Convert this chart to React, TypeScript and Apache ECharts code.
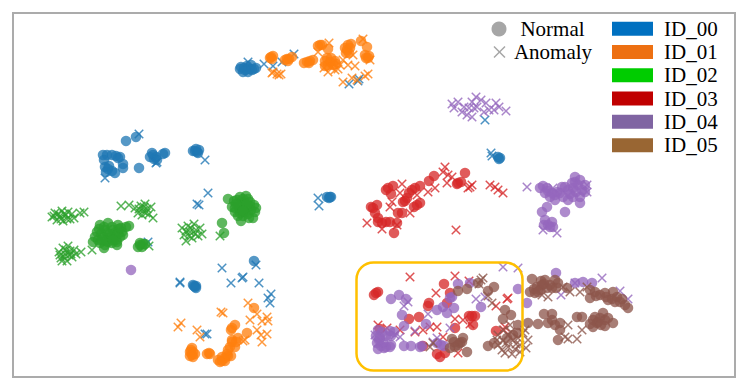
import React, { useEffect, useRef } from "react";
import * as echarts from "echarts";

type P = [number, number];

const ids = ["ID_00", "ID_01", "ID_02", "ID_03", "ID_04", "ID_05"];
const pointColors = ["#1f77b4", "#ff7f0e", "#2ca02c", "#d62728", "#9467bd", "#8c564b"];
const swatchColors = ["#0070C0", "#ED7012", "#00CC00", "#C00000", "#8064A2", "#996633"];

const normal00: P[] = [[240,69],[244,68],[247,69],[250,69],[254,69],[247,66],[251,65],[243,72],[248,72],[252,70],[256,68],[245,70],[241,67],[103,155],[107,155],[112,155],[116,156],[120,157],[105,167],[108,169],[112,171],[115,173],[123,164],[123,168],[104,160],[106,172],[109,166],[118,158],[139,168],[126,141],[136,137],[153,155],[156,157],[150,157],[154,159],[152,153],[157,160],[165,153],[163,154],[195,151],[197,152],[193,151],[198,153],[196,149],[199,150],[327,197],[330,197],[329,198],[331,197],[498,157],[500,158],[499,159],[194,286],[196,286],[195,287],[196,288],[193,285],[254,261]];
const anomaly00: P[] = [[139,134],[205,160],[105,178],[157,162],[156,163],[248,62],[264,64],[273,66],[282,62],[294,54],[349,84],[359,79],[358,81],[208,193],[199,205],[197,204],[319,206],[318,198],[148,242],[180,282],[180,283],[222,268],[231,283],[243,277],[242,278],[256,265],[259,283],[271,294],[268,298],[270,303],[207,334],[205,334],[485,120],[491,153],[492,156]];

const normal01: P[] = [[271,57],[270,58],[272,59],[273,56],[287,59],[289,59],[285,60],[292,57],[288,61],[307,62],[310,61],[313,60],[304,63],[309,63],[320,45],[322,45],[318,46],[328,49],[330,62],[325,61],[335,61],[328,65],[333,65],[325,66],[331,58],[336,64],[327,58],[348,45],[347,50],[350,48],[349,53],[345,48],[351,44],[346,53],[361,41],[367,47],[365,55],[368,58],[366,58],[369,56],[192,348],[190,352],[193,352],[192,355],[190,356],[193,357],[191,350],[195,354],[209,353],[210,354],[207,354],[218,360],[222,361],[225,358],[228,356],[222,357],[231,356],[225,361],[220,362],[227,354],[230,347],[235,347],[232,342],[238,338],[232,340],[236,342],[228,350],[232,328],[235,325],[231,330],[247,333],[254,308]];
const anomaly01: P[] = [[329,43],[318,52],[277,74],[273,72],[279,75],[272,73],[281,74],[328,72],[333,63],[340,65],[343,60],[348,65],[355,66],[353,55],[343,82],[352,78],[357,80],[368,74],[365,76],[363,39],[370,60],[181,323],[178,327],[197,330],[200,337],[221,312],[223,313],[248,303],[257,314],[250,320],[262,321],[267,317],[268,321],[257,330],[267,334],[261,335],[262,342],[245,340],[243,341],[335,70],[324,68],[338,69],[331,67]];

const normal02: P[] = [[100,225],[108,223],[118,225],[126,227],[97,232],[105,230],[113,230],[122,232],[95,237],[103,237],[112,237],[120,237],[93,242],[100,243],[108,242],[117,242],[104,248],[112,243],[117,245],[98,240],[107,233],[115,233],[123,235],[104,227],[112,227],[119,229],[101,234],[109,238],[116,240],[105,245],[129,226],[99,229],[110,234],[118,234],[106,241],[113,240],[121,228],[102,240],[140,245],[143,244],[138,247],[142,247],[145,244],[140,243],[234,201],[240,197],[246,196],[232,207],[238,204],[244,202],[250,202],[254,205],[235,212],[240,210],[246,208],[251,210],[256,208],[238,216],[243,216],[248,214],[253,218],[241,221],[243,199],[237,200],[248,199],[235,208],[240,213],[245,212],[250,206],[255,212],[242,206],[247,204],[236,204],[243,211],[249,218],[222,223],[224,233],[228,199]];
const anomaly02: P[] = [[52,217],[55,213],[57,220],[60,216],[62,211],[63,221],[66,215],[68,212],[70,219],[72,214],[74,218],[58,214],[61,219],[64,214],[67,219],[54,216],[80,213],[84,212],[121,206],[129,205],[135,208],[138,213],[141,206],[143,211],[145,204],[147,209],[149,214],[151,207],[139,209],[144,207],[146,213],[142,215],[153,218],[59,252],[61,258],[63,248],[65,254],[67,261],[68,246],[70,251],[72,257],[74,250],[62,261],[76,254],[64,257],[69,255],[66,250],[60,255],[71,254],[81,252],[92,250],[149,246],[182,228],[184,235],[186,241],[188,226],[190,232],[192,238],[194,224],[196,230],[198,236],[200,228],[202,234],[186,231],[191,228],[195,234],[189,236],[220,236]];

const normal03: P[] = [[386,190],[388,188],[393,186],[391,194],[412,190],[415,188],[420,186],[409,193],[405,201],[403,202],[407,198],[420,203],[414,207],[417,205],[398,213],[402,213],[371,207],[377,205],[373,208],[375,213],[378,218],[378,222],[382,223],[386,222],[390,222],[397,223],[394,233],[429,181],[434,176],[465,173],[458,183],[457,184],[461,182],[376,293],[378,292],[374,295],[444,284],[450,293],[429,303],[428,306],[447,303],[409,319],[419,317],[380,329],[455,328],[469,316],[475,316],[472,316],[473,325],[423,346],[437,354],[440,357],[445,353],[496,331]];
const anomaly03: P[] = [[445,167],[443,172],[448,175],[452,177],[447,183],[435,188],[428,192],[470,187],[472,185],[468,188],[490,185],[495,187],[498,190],[503,193],[456,230],[367,223],[402,184],[400,193],[392,202],[390,207],[410,213],[417,195],[382,229],[397,225],[410,277],[455,276],[436,293],[469,281],[508,298],[507,299],[496,306],[378,325],[387,328],[400,330],[415,332],[423,330],[430,327],[437,327],[455,319],[463,320],[470,324],[443,337],[458,353],[505,327],[504,330]];

const normal04: P[] = [[391,299],[399,295],[406,299],[402,315],[404,326],[426,324],[437,310],[443,307],[447,313],[454,308],[452,297],[458,284],[450,298],[481,307],[470,283],[518,289],[527,303],[378,330],[382,332],[390,331],[394,332],[376,336],[380,338],[386,336],[391,336],[377,343],[381,346],[386,347],[390,347],[378,349],[384,348],[391,345],[383,342],[379,340],[404,346],[411,346],[420,347],[422,346],[437,343],[441,345],[444,346],[556,273],[575,283],[583,282],[592,283],[540,188],[543,186],[547,188],[545,193],[550,197],[555,200],[560,193],[565,187],[568,190],[568,200],[573,188],[575,182],[575,177],[578,185],[582,190],[585,185],[580,197],[580,203],[562,187],[557,192],[552,193],[570,194],[576,192],[548,191],[555,195],[563,197],[573,197],[585,192],[580,180],[572,183],[565,212],[547,207],[542,212],[545,220],[544,225],[552,222],[550,227],[553,227],[548,225],[131,270]];
const anomaly04: P[] = [[452,104],[458,102],[454,108],[462,112],[467,115],[472,117],[476,97],[472,102],[477,107],[481,100],[486,103],[484,112],[489,110],[496,103],[499,107],[506,111],[494,110],[474,108],[469,108],[464,107],[527,187],[557,233],[553,188],[587,185],[587,192],[543,230],[408,302],[404,306],[428,314],[415,331],[400,337],[450,328],[476,299],[485,297],[437,338],[433,342],[503,267],[518,268],[378,343],[375,335],[395,335],[602,278],[620,291],[628,299],[561,295],[575,283]];

const normal05: P[] = [[458,291],[467,289],[478,283],[488,291],[494,287],[505,310],[511,315],[503,319],[518,325],[488,346],[494,343],[513,335],[507,338],[518,333],[452,339],[463,338],[460,343],[455,347],[450,348],[467,352],[458,345],[462,342],[454,342],[532,279],[530,292],[535,293],[537,287],[542,285],[545,280],[547,288],[540,290],[534,289],[541,281],[550,285],[555,280],[558,283],[556,288],[544,284],[538,292],[552,288],[567,288],[590,290],[595,292],[605,293],[608,300],[617,297],[620,302],[628,308],[625,305],[613,292],[590,298],[600,295],[612,299],[622,299],[596,296],[606,297],[615,302],[528,323],[538,324],[544,314],[552,314],[548,323],[555,325],[560,323],[552,320],[560,330],[558,340],[577,317],[582,317],[593,320],[597,323],[603,313],[593,327],[605,326],[613,323],[600,318],[605,320],[595,317],[598,322],[601,325],[608,318],[590,324]];
const anomaly05: P[] = [[483,278],[481,280],[479,284],[430,347],[433,343],[523,333],[528,340],[548,297],[542,295],[563,287],[570,292],[580,292],[587,287],[568,325],[565,337],[568,339],[582,330],[577,339],[498,335],[503,330],[508,335],[513,340],[503,341],[498,345],[508,347],[515,349],[520,345],[505,353],[512,354],[520,352],[526,348],[518,338],[525,330],[510,325],[497,340],[502,350],[506,343],[516,344],[511,332],[488,296],[492,303]];

const normals = [normal00, normal01, normal02, normal03, normal04, normal05];
const anomalies = [anomaly00, anomaly01, anomaly02, anomaly03, anomaly04, anomaly05];
const CROSS = "path://M0 0L10 10M0 10L10 0";
const FONT = '"Liberation Serif", serif';

export default function App() {
  const ref = useRef<HTMLDivElement>(null);
  useEffect(() => {
    const chart = echarts.init(ref.current!, undefined, { renderer: "svg" });
    const series: any[] = [];
    ids.forEach((name, i) => {
      series.push({
        name, type: "scatter", data: normals[i], symbol: "circle", symbolSize: 10.5,
        silent: true, itemStyle: { color: pointColors[i], opacity: 0.76 },
      });
      series.push({
        name, type: "scatter", data: anomalies[i], symbol: CROSS, symbolSize: 8.5,
        silent: true,
        itemStyle: { color: "transparent", borderColor: pointColors[i], borderWidth: 1.5, opacity: 0.8 },
      });
    });
    chart.setOption({
      animation: false,
      backgroundColor: "#ffffff",
      grid: { show: true, left: 13, right: 12, top: 13, bottom: 13, borderColor: "#ababab", borderWidth: 2, backgroundColor: "#ffffff" },
      xAxis: { type: "value", min: 13, max: 735, show: false },
      yAxis: { type: "value", min: 13, max: 377, inverse: true, show: false },
      legend: {
        orient: "vertical", left: 612, top: 17, padding: 0, itemWidth: 41, itemHeight: 14, itemGap: 0,
        selectedMode: false,
        textStyle: { fontFamily: FONT, fontSize: 21, color: "#000", lineHeight: 23.3, padding: [0, 0, 0, 6] },
        data: ids.map((name, i) => ({ name, icon: "rect", itemStyle: { color: swatchColors[i], opacity: 1, borderWidth: 0 } })),
      },
      series,
      graphic: [
        { type: "rect", shape: { x: 356.5, y: 262.5, width: 166, height: 108, r: 17 }, style: { fill: "none", stroke: "#FFC000", lineWidth: 2.5 }, z: 100 },
        { type: "circle", shape: { cx: 499, cy: 29, r: 7.5 }, style: { fill: "#a6a6a6" }, z: 100 },
        { type: "line", shape: { x1: 494, y1: 46.5, x2: 505, y2: 57.5 }, style: { stroke: "#a6a6a6", lineWidth: 1.5 }, z: 100 },
        { type: "line", shape: { x1: 505, y1: 46.5, x2: 494, y2: 57.5 }, style: { stroke: "#a6a6a6", lineWidth: 1.5 }, z: 100 },
        { type: "text", x: 552.5, y: 28.5, style: { text: "Normal", font: `21px ${FONT}`, fill: "#000", align: "center", verticalAlign: "middle" }, z: 100 },
        { type: "text", x: 553, y: 52, style: { text: "Anomaly", font: `21px ${FONT}`, fill: "#000", align: "center", verticalAlign: "middle" }, z: 100 },
      ],
    });
    return () => chart.dispose();
  }, []);
  return <div ref={ref} style={{ position: "fixed", left: 0, top: 0, width: 747, height: 390 }} />;
}
